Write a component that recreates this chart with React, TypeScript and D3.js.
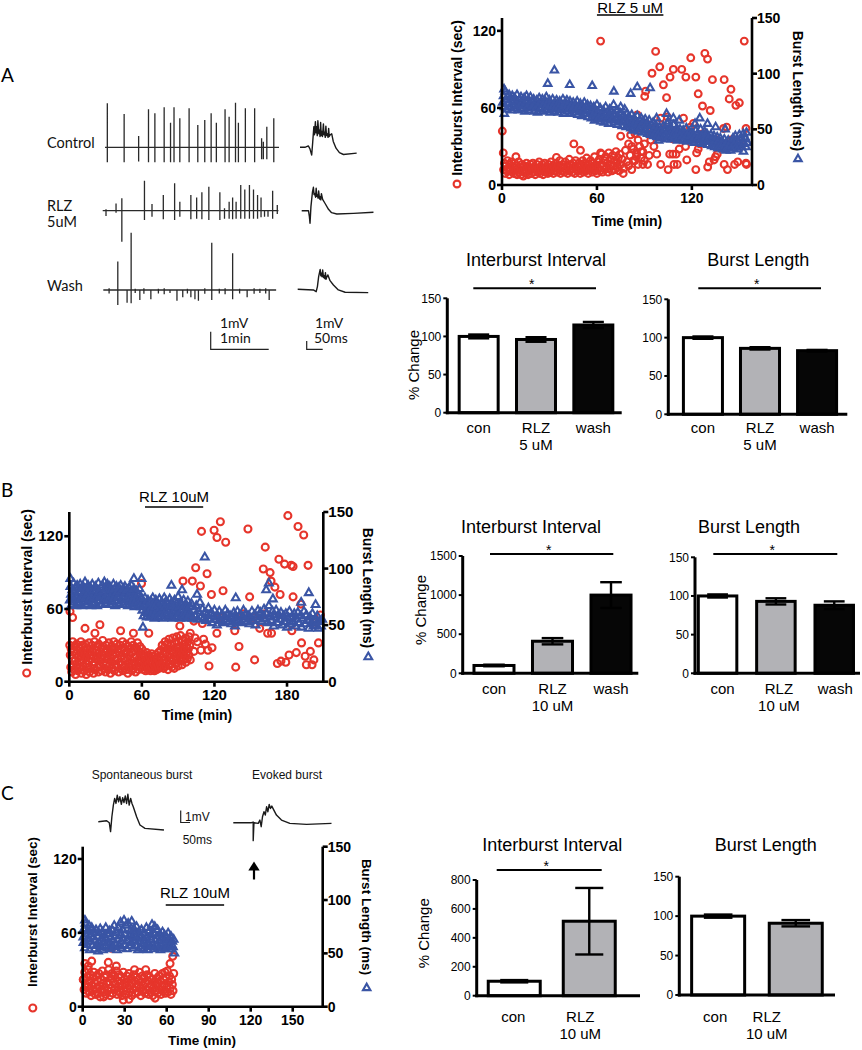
import React from 'react';
import * as d3 from 'd3';

type Pt = [number, number];

// ---------- panel A: raw traces (time in min, amplitude in mV) ----------
const ctrlSpikeT = [0.04, 0.33, 0.58, 0.75, 0.86, 1.02, 1.13, 1.19, 1.29, 1.45, 1.6, 1.72, 1.83, 1.92, 2.07, 2.14, 2.25, 2.3, 2.42, 2.58, 2.7, 2.73, 2.79, 2.91];
const ctrlSpikeUp = [2.59, 1.96, 0.66, 2.24, 2.0, 2.35, 1.45, 2.35, 1.71, 2.29, 1.31, 1.61, 2.0, 1.45, 2.24, 1.8, 2.62, 1.45, 2.29, 2.29, 0.53, 0.33, 1.21, 1.71];
const ctrlSpikeDown = [0.88, 0.88, 0.84, 0.88, 0.88, 0.88, 0.88, 0.88, 0.88, 0.88, 0.88, 0.88, 0.88, 0.88, 0.88, 0.88, 0.88, 0.88, 0.88, 0.88, 0.7, 0.7, 0.7, 0.88];

const rlzSpikeT = [0.057, 0.23, 0.33, 0.72, 0.85, 1.045, 1.24, 1.33, 1.52, 1.62, 1.71, 1.83, 2.02, 2.1, 2.18, 2.24, 2.3, 2.38, 2.45, 2.53, 2.6, 2.67, 2.73, 2.79, 2.85, 2.93, 3.01];
const rlzSpikeUp = [0.08, 0.43, 0.73, 1.76, 0.39, 0.92, 1.61, 0.53, 0.92, 0.78, 1.08, 1.41, 1.08, 0.14, 0.53, 0.78, 0.53, 1.51, 1.25, 1.51, 1.25, 0.92, 0.78, 0, 0, 1.18, 0.33];
const rlzSpikeDown = [0.31, 0.12, 1.82, 0.55, 0.35, 0.51, 0.55, 0.35, 0.51, 0.47, 0.51, 0.55, 0.55, 0.47, 0.47, 0.51, 0.47, 0.47, 0.47, 0.47, 0.47, 0.47, 0.39, 0.35, 0.35, 0.47, 0.2];

const washSpikeT = [0.1, 0.25, 0.41, 0.48, 0.55, 0.63, 0.7, 0.82, 0.95, 1.05, 1.15, 1.27, 1.37, 1.45, 1.51, 1.58, 1.64, 1.75, 1.87, 2.0, 2.1, 2.23, 2.35, 2.48, 2.6, 2.7, 2.8, 2.86];
const washSpikeUp = [0.1, 1.67, 0, 3.37, 0.08, 0, 0.1, 0, 0.08, 0.1, 0, 0, 0, 0.08, 0, 0, 0, 0.1, 2.78, 0.08, 0.1, 2.16, 0.08, 0, 0.1, 0.08, 0.1, 0];
const washSpikeDown = [0.2, 0.88, 0.75, 0.78, 0.18, 0.59, 0.22, 0.55, 0.2, 0.25, 0.18, 0.63, 0.43, 0.2, 0.43, 0.55, 0.63, 0.22, 0.59, 0.2, 0.25, 0.55, 0.2, 0.43, 0.22, 0.18, 0.2, 0.59];

// single bursts (ms, mV)
const ctrlBurst: Pt[] = [[0, 0], [16, 0], [27, 0.15], [32, -0.15], [38, -0.85], [41, 0.45], [45, 2.3], [47, 1.4], [50, 2.85], [52, 1.6], [54, 2.3], [56, 1.3], [58, 2.95], [61, 1.5], [63, 1.9], [65, 1.2], [67, 2.75], [69, 1.3], [71, 1.75], [73, 1.2], [76, 2.6], [78, 1.4], [80, 1.65], [82, 1.1], [84, 2.35], [86, 1.3], [89, 1.5], [91, 1.1], [93, 2.1], [95, 1.2], [97, 1.35], [103, 1.5], [108, 0.65], [117, -0.1], [128, -0.6], [141, -0.8], [184, -0.65]];
const rlzBurst: Pt[] = [[0, 0], [22, 0], [25, -0.67], [27, -1.4], [30, 0.45], [35, 2.1], [38, 2.6], [40, 1.8], [42, 1.9], [45, 1.5], [47, 2.5], [49, 1.6], [51, 1.75], [53, 1.4], [55, 2.2], [58, 1.3], [60, 1.55], [62, 1.2], [64, 1.9], [68, 1.25], [76, 0.8], [87, 0.15], [97, -0.22], [114, -0.37], [168, -0.3], [233, -0.18]];
const washBurst: Pt[] = [[0, 0], [51, -0.07], [60, -0.26], [64, 0.3], [68, 1.4], [73, 2.2], [75, 1.5], [77, 1.8], [79, 1.4], [81, 2.15], [84, 1.3], [86, 1.5], [88, 1.2], [90, 1.85], [92, 1.1], [94, 1.33], [98, 1.6], [105, 0.96], [116, 0.48], [132, -0.07], [154, -0.33], [229, -0.37]];
const spontBurst: Pt[] = [[0, 0], [45, 0.12], [59, -0.12], [66, -1.2], [73, 0.6], [81, 2.0], [88, 2.8], [95, 2.2], [102, 3.2], [109, 2.4], [116, 3.0], [124, 2.1], [131, 2.9], [138, 2.3], [145, 3.1], [152, 2.2], [159, 3.3], [166, 2.0], [174, 2.8], [181, 2.2], [188, 1.8], [206, 0.6], [224, -0.4], [251, -0.8], [353, -1.0]];
const evokedBurst: Pt[] = [[0, 0], [98, 0], [107, 0.08], [107, -2.16], [111, 0], [134, -0.08], [143, 0.32], [150, -0.48], [157, 0.72], [165, 1.32], [172, 0.92], [179, 1.92], [186, 1.32], [193, 2.2], [200, 1.72], [207, 2.0], [218, 1.52], [232, 0.92], [259, 0.32], [304, -0.08], [394, -0.2], [528, -0.08]];

// ---------- scatter data: [time (min), value] ----------
const aInterval: Pt[] = [
  [1, 12], [1.5, 17], [2, 9], [2.5, 15], [3, 11], [3.5, 19], [4, 13], [4.5, 8], [5, 16], [5.5, 12], [6, 18], [6.5, 10], [7, 14], [7.5, 9], [8, 17], [8.5, 12], [9, 15], [9.5, 8], [10, 13], [10.5, 18],
  [11, 10], [11.5, 14], [12, 8], [12.5, 16], [13, 11], [13.5, 7], [14, 15], [14.5, 12], [15, 9], [15.5, 17], [16, 13], [16.5, 8], [17, 14], [17.5, 11], [18, 16], [18.5, 9], [19, 13], [19.5, 17], [20, 10], [20.5, 14],
  [21, 8], [21.5, 12], [22, 16], [22.5, 10], [23, 13], [23.5, 18], [24, 9], [24.5, 14], [25, 11], [25.5, 16], [26, 8], [26.5, 13], [27, 17], [27.5, 10], [28, 14], [28.5, 12], [29, 9], [29.5, 16], [30, 13], [30.5, 10],
  [31, 18], [31.5, 12], [32, 15], [32.5, 9], [33, 14], [33.5, 11], [34, 17], [34.5, 13], [35, 10], [35.5, 15], [36, 12], [36.5, 19], [37, 9], [37.5, 14], [38, 11], [38.5, 16], [39, 13], [39.5, 10], [40, 18], [40.5, 12],
  [41, 15], [41.5, 9], [42, 14], [42.5, 20], [43, 11], [43.5, 16], [44, 13], [44.5, 10], [45, 17], [45.5, 14], [46, 9], [46.5, 19], [47, 12], [47.5, 15], [48, 11], [48.5, 17], [49, 14], [49.5, 9], [50, 16], [50.5, 12],
  [51, 19], [51.5, 10], [52, 14], [52.5, 17], [53, 11], [53.5, 21], [54, 13], [54.5, 9], [55, 16], [55.5, 12], [56, 19], [56.5, 14], [57, 10], [57.5, 17], [58, 13], [58.5, 22], [59, 11], [59.5, 15], [60, 9], [60.5, 18],
  [61, 13], [61.5, 20], [62, 11], [62.5, 16], [63, 24], [63.5, 10], [64, 15], [64.5, 19], [65, 12], [65.5, 22], [66, 14], [66.5, 17], [67, 10], [67.5, 25], [68, 13], [68.5, 20], [69, 16], [69.5, 11], [70, 23], [70.5, 15],
  [71, 19], [71.5, 12], [72, 26], [72.5, 17], [73, 14], [73.5, 21], [74, 11], [74.5, 24], [75, 16], [76, 20], [77, 13], [78, 27], [79, 18], [80, 15], [81, 23], [82, 12], [83, 28], [84, 19], [85, 25], [86, 16], [87, 30], [88, 21], [89, 26], [90, 19],
  [0.2, 42], [0.8, 25], [8.8, 22], [45.4, 32], [49.6, 27], [34.4, 21.5], [62.3, 112], [62.3, 25], [75, 38], [76.6, 9], [81.3, 39], [85.5, 54.5], [90.2, 69], [90.8, 73], [94.8, 87], [97.1, 104], [99.7, 92], [102, 78], [104, 68], [106.2, 84],
  [108.3, 90], [113.6, 90], [116.2, 84], [119.3, 99], [122.5, 84], [124, 71], [126.7, 61.5], [128.2, 102.5], [129.9, 98], [131.6, 58], [133, 82], [140.4, 82], [143.6, 67], [144.7, 74.5], [147.8, 62], [150, 64], [153.1, 112], [154.2, 44], [154.2, 17], [100.3, 52],
  [104.5, 53], [114.7, 52], [108, 36], [110, 38], [97.8, 24], [100.3, 16], [105, 12], [108.7, 16], [110.8, 16], [106, 24], [108, 24], [110, 24], [116.8, 19.5], [122.5, 12], [116, 30], [123, 25], [124, 28], [125, 32], [130, 14], [131, 18],
  [134, 19.5], [136, 24], [135, 22], [137, 30], [136, 35], [140.4, 16], [142.5, 12], [147, 16], [149, 18], [140, 44], [142, 45], [144.7, 35], [150.5, 35], [151, 30], [154.5, 16], [80, 32], [82, 30], [83, 19], [85, 22], [88, 26],
  [89, 16], [90, 32], [92, 16], [93, 23], [94, 35], [94, 41.5], [96, 44], [96, 30], [86, 35], [84, 40], [87, 45], [91, 48], [119, 45], [127, 40], [121, 48], [103, 44], [112, 28], [118, 40],
];

const aLength: Pt[] = [
  [0.5, 74], [1, 80], [1.5, 70], [2, 84], [2.5, 77], [3, 68], [3.5, 79], [4, 73], [4.5, 81], [5, 70], [5.5, 76], [6, 67], [6.5, 80], [7, 74], [7.5, 71], [8, 78], [8.5, 69], [9, 75], [9.5, 81], [10, 72],
  [10.5, 67], [11, 77], [11.5, 73], [12, 79], [12.5, 68], [13, 75], [13.5, 71], [14, 78], [14.5, 66], [15, 74], [15.5, 80], [16, 70], [16.5, 76], [17, 67], [17.5, 73], [18, 79], [18.5, 69], [19, 75], [19.5, 71], [20, 77],
  [20.5, 66], [21, 73], [21.5, 69], [22, 76], [22.5, 65], [23, 72], [23.5, 78], [24, 68], [24.5, 74], [25, 70], [25.5, 77], [26, 66], [26.5, 72], [27, 68], [27.5, 75], [28, 79], [28.5, 67], [29, 73], [29.5, 70], [30, 76],
  [30.5, 65], [31, 72], [31.5, 68], [32, 77], [32.5, 71], [33, 66], [33.5, 74], [34, 69], [34.5, 76], [35, 72], [35.5, 65], [36, 70], [36.5, 75], [37, 67], [37.5, 73], [38, 69], [38.5, 77], [39, 64], [39.5, 71], [40, 74],
  [40.5, 68], [41, 76], [41.5, 66], [42, 72], [42.5, 69], [43, 75], [43.5, 64], [44, 71], [44.5, 67], [45, 74], [45.5, 70], [46, 65], [46.5, 72], [47, 68], [47.5, 75], [48, 63], [48.5, 70], [49, 66], [49.5, 73], [50, 69],
  [50.5, 62], [51, 71], [51.5, 67], [52, 74], [52.5, 64], [53, 70], [53.5, 66], [54, 72], [54.5, 61], [55, 68], [55.5, 64], [56, 71], [56.5, 60], [57, 67], [57.5, 63], [58, 70], [58.5, 58], [59, 66], [59.5, 62], [60, 72],
  [60.5, 59], [61, 65], [61.5, 61], [62, 69], [62.5, 57], [63, 64], [63.5, 60], [64, 67], [64.5, 56], [65, 63], [65.5, 70], [66, 59], [66.5, 65], [67, 61], [67.5, 55], [68, 68], [68.5, 62], [69, 58], [69.5, 66], [70, 60],
  [70.5, 72], [71, 56], [71.5, 63], [72, 59], [72.5, 67], [73, 54], [73.5, 61], [74, 57], [74.5, 65], [75, 70], [75.5, 58], [76, 53], [76.5, 62], [77, 56], [77.5, 68], [78, 60], [78.5, 52], [79, 64], [79.5, 57], [80, 61],
  [80.5, 54], [81, 59], [81.5, 51], [82, 63], [82.5, 56], [83, 49], [83.5, 60], [84, 53], [84.5, 57], [85, 50], [85.5, 62], [86, 55], [86.5, 48], [87, 58], [87.5, 52], [88, 60], [88.5, 54], [89, 47], [89.5, 57], [90, 51],
  [90.5, 59], [91, 49], [91.5, 55], [92, 46], [92.5, 53], [93, 58], [93.5, 50], [94, 45], [94.5, 54], [95, 48], [95.5, 56], [96, 44], [96.5, 51], [97, 47], [97.5, 53], [98, 43], [98.5, 50], [99, 46], [99.5, 52], [100, 44],
  [100.5, 49], [101, 42], [101.5, 47], [102, 53], [102.5, 44], [103, 50], [103.5, 41], [104, 47], [104.5, 55], [105, 43], [105.5, 49], [106, 45], [106.5, 52], [107, 41], [107.5, 47], [108, 44], [108.5, 54], [109, 42], [109.5, 48], [110, 45],
  [110.5, 51], [111, 40], [111.5, 46], [112, 43], [112.5, 50], [113, 41], [113.5, 47], [114, 44], [114.5, 49], [115, 40], [115.5, 46], [116, 43], [116.5, 51], [117, 39], [117.5, 45], [118, 42], [118.5, 48], [119, 40], [119.5, 44], [120, 47],
  [120.5, 41], [121, 45], [121.5, 38], [122, 43], [122.5, 49], [123, 40], [123.5, 46], [124, 42], [124.5, 38], [125, 44], [125.5, 50], [126, 41], [126.5, 37], [127, 45], [127.5, 42], [128, 48], [128.5, 39], [129, 43], [129.5, 46], [130, 40],
  [130.5, 36], [131, 42], [131.5, 39], [132, 45], [132.5, 35], [133, 41], [133.5, 38], [134, 44], [134.5, 34], [135, 40], [135.5, 37], [136, 43], [136.5, 33], [137, 39], [137.5, 36], [138, 42], [138.5, 34], [139, 38], [139.5, 32], [140, 37],
  [140.5, 41], [141, 35], [141.5, 31], [142, 38], [142.5, 34], [143, 40], [143.5, 33], [144, 36], [144.5, 31], [145, 39], [145.5, 35], [146, 42], [146.5, 33], [147, 37], [147.5, 44], [148, 35], [148.5, 40], [149, 32], [149.5, 38], [150, 45],
  [150.5, 36], [151, 42], [151.5, 34], [152, 39], [152.5, 46], [153, 37], [153.5, 43], [154, 41], [154.5, 47], [155, 38],
  [1.3, 86], [1.5, 64], [28.9, 91], [33.1, 103], [42.8, 90], [57, 89], [70.7, 84], [81.3, 82], [85.5, 88], [93.6, 87], [97.7, 60], [99, 40], [104, 64], [108.3, 60], [125, 60], [129.9, 55], [130, 36], [152.6, 30], [154.2, 34],
  [105, 57], [112, 58], [122, 55], [135, 52], [141, 50],
];

const bInterval: Pt[] = [
  [0.4, 30], [0.8, 22], [1.2, 12], [1.6, 27], [2, 8], [2.4, 19], [2.8, 33], [3.2, 14], [3.6, 25], [4, 10], [4.4, 29], [4.8, 17], [5.2, 6], [5.6, 23], [6, 31], [6.4, 13], [6.8, 26], [7.2, 9], [7.6, 20], [8, 28],
  [8.4, 11], [8.8, 24], [9.2, 16], [9.6, 33], [10, 7], [10.4, 21], [10.8, 30], [11.2, 13], [11.6, 18], [12, 26], [12.4, 9], [12.8, 23], [13.2, 31], [13.6, 15], [14, 6], [14.4, 20], [14.8, 28], [15.2, 12], [15.6, 24], [16, 17],
  [16.4, 32], [16.8, 8], [17.2, 22], [17.6, 27], [18, 11], [18.4, 19], [18.8, 30], [19.2, 14], [19.6, 25], [20, 7], [20.4, 21], [20.8, 33], [21.2, 16], [21.6, 10], [22, 26], [22.4, 19], [22.8, 29], [23.2, 12], [23.6, 23], [24, 8],
  [24.4, 31], [24.8, 17], [25.2, 25], [25.6, 13], [26, 20], [26.4, 28], [26.8, 9], [27.2, 22], [27.6, 34], [28, 15], [28.4, 11], [28.8, 27], [29.2, 19], [29.6, 24], [30, 8], [30.4, 30], [30.8, 14], [31.2, 21], [31.6, 26], [32, 10],
  [32.4, 18], [32.8, 32], [33.2, 13], [33.6, 24], [34, 7], [34.4, 20], [34.8, 29], [35.2, 16], [35.6, 11], [36, 26], [36.4, 22], [36.8, 33], [37.2, 9], [37.6, 18], [38, 28], [38.4, 14], [38.8, 23], [39.2, 31], [39.6, 12], [40, 19],
  [40.4, 27], [40.8, 8], [41.2, 24], [41.6, 16], [42, 30], [42.4, 11], [42.8, 21], [43.2, 26], [43.6, 14], [44, 33], [44.4, 9], [44.8, 19], [45.2, 28], [45.6, 13], [46, 23], [46.4, 17], [46.8, 31], [47.2, 10], [47.6, 25], [48, 20],
  [48.4, 7], [48.8, 29], [49.2, 15], [49.6, 22], [50, 12], [50.4, 27], [50.8, 18], [51.2, 33], [51.6, 9], [52, 24], [52.4, 14], [52.8, 30], [53.2, 11], [53.6, 20], [54, 26], [54.4, 16], [54.8, 8], [55.2, 28], [55.6, 21], [56, 13],
  [56.4, 32], [56.8, 18], [57.2, 10], [57.6, 25], [58, 15], [58.4, 29], [58.8, 12], [59.2, 22], [59.6, 17], [60, 27],
  [60.4, 14], [60.8, 20], [61.2, 10], [61.6, 23], [62, 16], [62.4, 12], [62.8, 21], [63.2, 9], [63.6, 18], [64, 24], [64.4, 13], [64.8, 19], [65.2, 10], [65.6, 22], [66, 15], [66.4, 11], [66.8, 20], [67.2, 9], [67.6, 17], [68, 23],
  [68.4, 12], [68.8, 16], [69.2, 10], [69.6, 21], [70, 14], [70.4, 9], [70.8, 18], [71.2, 12], [71.6, 22], [72, 15], [72.4, 10], [72.8, 19], [73.2, 13], [73.6, 24], [74, 11], [74.4, 17], [74.8, 21], [75.2, 14],
  [75.6, 26], [76, 12], [76.4, 20], [76.8, 30], [77.2, 15], [77.6, 23], [78, 11], [78.4, 28], [78.8, 18], [79.2, 33], [79.6, 13], [80, 24], [80.4, 16], [80.8, 31], [81.2, 21], [81.6, 10], [82, 27], [82.4, 35], [82.8, 17], [83.2, 23],
  [83.6, 14], [84, 30], [84.4, 20], [84.8, 12], [85.2, 26], [85.6, 36], [86, 18], [86.4, 24], [86.8, 11], [87.2, 32], [87.6, 21], [88, 15], [88.4, 28], [88.8, 37], [89.2, 19], [89.6, 25], [90, 13], [90.4, 33], [90.8, 22], [91.2, 17],
  [91.6, 29], [92, 38], [92.4, 20], [92.8, 26], [93.2, 14], [93.6, 34], [94, 23], [94.4, 18], [94.8, 31], [95.2, 27], [95.6, 21], [96, 36], [96.4, 16], [96.8, 29], [97.2, 24], [97.6, 19], [98, 33], [98.4, 27], [98.8, 22], [99.2, 37],
  [99.6, 30], [100, 18],
  [0.6, 58], [2.7, 53], [13, 44], [25.3, 47], [21.2, 40], [42.4, 42], [53, 40], [59.7, 81], [65.7, 40], [91.4, 46], [94, 83], [101.7, 83], [104.5, 94], [108.4, 79], [113.9, 89], [109.3, 124], [119.7, 125], [122.1, 119], [124.9, 132], [129.3, 115],
  [117.5, 72], [127.1, 75], [122, 40], [136.8, 42], [140.3, 29], [137.6, 12], [147.7, 126], [149.1, 70], [153.2, 18], [157.4, 44], [162, 111], [160.4, 93], [166, 90], [166.8, 83], [170, 78], [174.3, 72], [164, 40], [167.2, 40], [173.3, 101], [178, 97],
  [183.5, 96], [185, 95], [180.7, 137], [189.1, 128], [193.8, 121], [197.4, 96], [185, 70], [191.5, 64], [184, 42], [172, 15], [175, 17], [179, 16], [181.7, 22], [187.7, 24], [192, 32], [195, 21], [196, 14], [200.7, 14], [202.2, 18], [199.3, 25],
  [206, 32], [204, 49], [207.6, 55], [108.8, 26], [106, 33], [114.6, 26], [115.5, 13], [111, 35], [112.5, 31], [103, 25], [124.6, 53], [144, 56], [152, 53], [162, 56], [100, 40], [104, 36], [103, 50], [110, 48], [118, 28], [98, 55],
];

const bLength: Pt[] = [
  [0.5, 72], [1, 84], [1.5, 77], [2, 68], [2.5, 81], [3, 74], [3.5, 87], [4, 70], [4.5, 79], [5, 83], [5.5, 67], [6, 76], [6.5, 85], [7, 72], [7.5, 80], [8, 69], [8.5, 78], [9, 86], [9.5, 73], [10, 82],
  [10.5, 67], [11, 76], [11.5, 84], [12, 71], [12.5, 79], [13, 88], [13.5, 74], [14, 68], [14.5, 81], [15, 77], [15.5, 85], [16, 70], [16.5, 79], [17, 73], [17.5, 83], [18, 67], [18.5, 76], [19, 86], [19.5, 72], [20, 80],
  [20.5, 69], [21, 78], [21.5, 84], [22, 74], [22.5, 81], [23, 67], [23.5, 77], [24, 87], [24.5, 71], [25, 79], [25.5, 75], [26, 83], [26.5, 68], [27, 76], [27.5, 85], [28, 72], [28.5, 80], [29, 88], [29.5, 74], [30, 69],
  [30.5, 82], [31, 77], [31.5, 86], [32, 71], [32.5, 79], [33, 73], [33.5, 84], [34, 68], [34.5, 76], [35, 81], [35.5, 70], [36, 78], [36.5, 86], [37, 74], [37.5, 82], [38, 67], [38.5, 77], [39, 84], [39.5, 71], [40, 79],
  [40.5, 75], [41, 83], [41.5, 69], [42, 78], [42.5, 85], [43, 72], [43.5, 80], [44, 74], [44.5, 68], [45, 82], [45.5, 77], [46, 84], [46.5, 70], [47, 79], [47.5, 73], [48, 81], [48.5, 67], [49, 76], [49.5, 83], [50, 71],
  [50.5, 78], [51, 74], [51.5, 85], [52, 69], [52.5, 79], [53, 72], [53.5, 82], [54, 66], [54.5, 76], [55, 70], [55.5, 80], [56, 73], [56.5, 67], [57, 77], [57.5, 71], [58, 82], [58.5, 68], [59, 75], [59.5, 66], [60, 73],
  [60.5, 63], [61, 70], [61.5, 58], [62, 67], [62.5, 74], [63, 61], [63.5, 68], [64, 57], [64.5, 65], [65, 72], [65.5, 60], [66, 69], [66.5, 63], [67, 57], [67.5, 71], [68, 65], [68.5, 59], [69, 74], [69.5, 62], [70, 68],
  [70.5, 56], [71, 66], [71.5, 72], [72, 60], [72.5, 69], [73, 63], [73.5, 57], [74, 67], [74.5, 73], [75, 61], [75.5, 65], [76, 58], [76.5, 70], [77, 63], [77.5, 56], [78, 68], [78.5, 74], [79, 60], [79.5, 66], [80, 71],
  [80.5, 58], [81, 64], [81.5, 69], [82, 57], [82.5, 62], [83, 73], [83.5, 66], [84, 59], [84.5, 70], [85, 63], [85.5, 56], [86, 67], [86.5, 61], [87, 72], [87.5, 58], [88, 65], [88.5, 69], [89, 57], [89.5, 63], [90, 75],
  [90.5, 60], [91, 66], [91.5, 56], [92, 70], [92.5, 62], [93, 67], [93.5, 58], [94, 64], [94.5, 72], [95, 57], [95.5, 61], [96, 68], [96.5, 59], [97, 65], [97.5, 56], [98, 71], [98.5, 62], [99, 57], [99.5, 66], [100, 60],
  [101, 69], [102, 56], [103, 63], [104, 58], [105, 67], [106, 55], [107, 62], [108, 70], [109, 57], [110, 64],
  [111, 56], [112, 61], [113, 54], [114, 59], [115, 65], [116, 55], [117, 60], [118, 52], [119, 58], [120, 63], [121, 55], [122, 50], [123, 57], [124, 62], [125, 54], [126, 59], [127, 52], [128, 57], [129, 63], [130, 55],
  [131, 60], [132, 53], [133, 58], [134, 51], [135, 56], [136, 61], [137, 49], [138, 57], [139, 62], [140, 54], [141, 59], [142, 52], [143, 57], [144, 63], [145, 55], [146, 60], [147, 53], [148, 58], [149, 51], [150, 56],
  [151, 62], [152, 54], [153, 59], [154, 50], [155, 57], [156, 63], [157, 55], [158, 61], [159, 53], [160, 58], [161, 64], [162, 56], [163, 60], [164, 52], [165, 67], [166, 58], [167, 54], [168, 62], [169, 49], [170, 57],
  [171, 63], [172, 52], [173, 59], [174, 55], [175, 61], [176, 50], [177, 58], [178, 53], [179, 60], [180, 48], [181, 56], [182, 62], [183, 51], [184, 57], [185, 53], [186, 60], [187, 49], [188, 55], [189, 61], [190, 52],
  [191, 58], [192, 48], [193, 56], [194, 62], [195, 51], [196, 59], [197, 54], [198, 47], [199, 57], [200, 52], [201, 60], [202, 49], [203, 55], [204, 50], [205, 58], [206, 47], [207, 53], [208, 49], [209, 55],
  [0.9, 91], [53.4, 91], [59.7, 91], [60.9, 48], [84.4, 85], [93.2, 81], [112, 110], [105.6, 77], [137.6, 74], [137.6, 53], [162.8, 81], [165, 87], [168.3, 73], [191.7, 70], [198, 78.5], [203.6, 68], [205.5, 53],
];

const cInterval: Pt[] = [
  [0.5, 22], [1, 14], [1.5, 28], [2, 18], [2.5, 11], [3, 24], [3.5, 16], [4, 30], [4.5, 12], [5, 20], [5.5, 26], [6, 9], [6.5, 17], [7, 23], [7.5, 13], [8, 28], [8.5, 19], [9, 10], [9.5, 25], [10, 15],
  [10.5, 21], [11, 11], [11.5, 27], [12, 17], [12.5, 8], [13, 22], [13.5, 14], [14, 29], [14.5, 19], [15, 12], [15.5, 24], [16, 16], [16.5, 10], [17, 26], [17.5, 20], [18, 13], [18.5, 30], [19, 18], [19.5, 9], [20, 23],
  [20.5, 15], [21, 27], [21.5, 11], [22, 20], [22.5, 25], [23, 14], [23.5, 18], [24, 29], [24.5, 10], [25, 21], [25.5, 16], [26, 26], [26.5, 12], [27, 19], [27.5, 24], [28, 9], [28.5, 17], [29, 28], [29.5, 13], [30, 22],
  [30.5, 18], [31, 10], [31.5, 25], [32, 15], [32.5, 20], [33, 27], [33.5, 12], [34, 17], [34.5, 23], [35, 9], [35.5, 19], [36, 14], [36.5, 26], [37, 21], [37.5, 11], [38, 16], [38.5, 24], [39, 18], [39.5, 12], [40, 22],
  [40.5, 28], [41, 15], [41.5, 9], [42, 20], [42.5, 25], [43, 13], [43.5, 17], [44, 23], [44.5, 11], [45, 19], [45.5, 14], [46, 26], [46.5, 21], [47, 10], [47.5, 16], [48, 24], [48.5, 12], [49, 18], [49.5, 22], [50, 9],
  [50.5, 15], [51, 20], [51.5, 27], [52, 13], [52.5, 17], [53, 23], [53.5, 11], [54, 19], [54.5, 25], [55, 14], [55.5, 21], [56, 10], [56.5, 17], [57, 27], [57.5, 13], [58, 22], [58.5, 18], [59, 11], [59.5, 24], [60, 16],
  [60.5, 29], [61, 12], [61.5, 20], [62, 25], [62.5, 15], [63, 10], [63.5, 22], [64, 18], [64.5, 13], [65, 27],
  [0.4, 22], [1.6, 35], [6.4, 37], [11.2, 11], [18.3, 36], [20.7, 47.5], [29, 5.5], [37, 30], [51.7, 7], [58.8, 28], [62.4, 35], [64.3, 41], [4, 33], [24, 33], [45, 30], [33, 6], [15, 8],
];

const cLength: Pt[] = [
  [0.5, 60], [1, 73], [1.5, 55], [2, 78], [2.5, 66], [3, 58], [3.5, 71], [4, 63], [4.5, 76], [5, 53], [5.5, 68], [6, 61], [6.5, 74], [7, 57], [7.5, 65], [8, 70], [8.5, 54], [9, 62], [9.5, 72], [10, 58],
  [10.5, 66], [11, 52], [11.5, 69], [12, 60], [12.5, 73], [13, 56], [13.5, 64], [14, 70], [14.5, 53], [15, 61], [15.5, 67], [16, 57], [16.5, 74], [17, 63], [17.5, 55], [18, 68], [18.5, 60], [19, 71], [19.5, 54], [20, 65],
  [20.5, 58], [21, 72], [21.5, 62], [22, 56], [22.5, 76], [23, 66], [23.5, 59], [24, 69], [24.5, 53], [25, 63], [25.5, 74], [26, 57], [26.5, 67], [27, 79], [27.5, 61], [28, 55], [28.5, 72], [29, 64], [29.5, 81], [30, 58],
  [30.5, 68], [31, 76], [31.5, 54], [32, 62], [32.5, 78], [33, 66], [33.5, 57], [34, 71], [34.5, 60], [35, 80], [35.5, 65], [36, 55], [36.5, 73], [37, 62], [37.5, 68], [38, 57], [38.5, 75], [39, 64], [39.5, 53], [40, 70],
  [40.5, 61], [41, 66], [41.5, 55], [42, 72], [42.5, 59], [43, 64], [43.5, 54], [44, 69], [44.5, 62], [45, 57], [45.5, 74], [46, 65], [46.5, 53], [47, 60], [47.5, 71], [48, 56], [48.5, 67], [49, 63], [49.5, 77], [50, 58],
  [50.5, 69], [51, 54], [51.5, 75], [52, 62], [52.5, 57], [53, 66], [53.5, 72], [54, 55], [54.5, 61], [55, 68], [55.5, 53], [56, 64], [56.5, 58], [57, 70], [57.5, 55], [58, 62], [58.5, 67], [59, 54], [59.5, 60], [60, 65],
  [60.5, 56], [61, 69], [61.5, 59], [62, 63], [62.5, 54], [63, 66], [63.5, 58], [64, 61], [64.5, 56], [65, 63],
  [0.4, 65], [1.6, 81], [65.5, 50],
];

// ---------- bar data (% change, mean and SEM) ----------
const catsA = [['con'], ['RLZ', '5 uM'], ['wash']];
const catsB = [['con'], ['RLZ', '10 uM'], ['wash']];
const catsC = [['con'], ['RLZ', '10 uM']];
const ibiA = [100, 96, 115];
const ibiAErr = [2.5, 3, 4];
const blA = [100, 86, 83];
const blAErr = [1.5, 1.5, 1];
const ibiB = [100, 410, 1000];
const ibiBErr = [10, 40, 165];
const blB = [100, 93, 88];
const blBErr = [2, 4, 5];
const ibiC = [100, 515];
const ibiCErr = [8, 230];
const blC = [100, 91];
const blCErr = [2, 4];

const RED = '#e6352b';
const BLUE = '#3a55a5';
const ARIAL = 'Arial, "Liberation Sans", Helvetica, sans-serif';
const GILL = 'Lato, "Open Sans", sans-serif';
const BAR_FILLS = ['#ffffff', '#b2b2b6', '#060606'];

interface ScatterCfg {
  x0: number; x1: number; yb: number; yt: number;
  tMax: number; leftMax: number;
  xTicks: number[]; leftTicks: number[];
  tickFont: number; labelFont: number; r: number; tri: number;
  leftLabel: { x: number; y: number; m: number };
  rightLabel: { x: number; y: number; m: number };
  time: { x: number; y: number };
  drug: { t0: number; t1: number; ty: number; ly: number; text: string };
}

const Scatter = ({ cfg, intPts, lenPts }: { cfg: ScatterCfg; intPts: Pt[]; lenPts: Pt[] }) => {
  const x = d3.scaleLinear().domain([0, cfg.tMax]).range([cfg.x0, cfg.x1]);
  const yL = d3.scaleLinear().domain([0, cfg.leftMax]).range([cfg.yb, cfg.yt]);
  const yR = d3.scaleLinear().domain([0, 150]).range([cfg.yb, cfg.yt]);
  const tri = d3.symbol().type(d3.symbolTriangle).size(cfg.tri)() as string;
  const rightTicks = [0, 50, 100, 150];
  const sw = 2.1;
  return (
    <g fontFamily={ARIAL} fontWeight="bold">
      {intPts.map((p, i) => (
        <circle key={'c' + i} cx={x(p[0])} cy={yL(p[1])} r={cfg.r} fill="none" stroke={RED} strokeWidth={sw} />
      ))}
      {lenPts.map((p, i) => (
        <path key={'t' + i} d={tri} transform={`translate(${x(p[0])},${yR(p[1])})`} fill="none" stroke={BLUE} strokeWidth={sw} />
      ))}
      {/* axes */}
      <g stroke="#000" strokeWidth={2.6} fill="none">
        <line x1={cfg.x0} x2={cfg.x0} y1={cfg.yb + 1} y2={cfg.yt} />
        <line x1={cfg.x1} x2={cfg.x1} y1={cfg.yb + 1} y2={cfg.yt} />
        <line x1={cfg.x0 - 1} x2={cfg.x1 + 1} y1={cfg.yb} y2={cfg.yb} />
        {cfg.xTicks.map(t => <line key={'xt' + t} x1={x(t)} x2={x(t)} y1={cfg.yb} y2={cfg.yb + 5} />)}
        {cfg.leftTicks.map(t => <line key={'lt' + t} x1={cfg.x0 - 5} x2={cfg.x0} y1={yL(t)} y2={yL(t)} />)}
        {rightTicks.map(t => <line key={'rt' + t} x1={cfg.x1} x2={cfg.x1 + 5} y1={yR(t)} y2={yR(t)} />)}
      </g>
      <g fontSize={cfg.tickFont}>
        {cfg.xTicks.map(t => <text key={'xl' + t} x={x(t)} y={cfg.yb + 18} textAnchor="middle">{t}</text>)}
        {cfg.leftTicks.map(t => <text key={'ll' + t} x={cfg.x0 - 6} y={yL(t)} dy="0.35em" textAnchor="end">{t}</text>)}
        {rightTicks.map(t => <text key={'rl' + t} x={cfg.x1 + 5} y={yR(t)} dy="0.35em">{t}</text>)}
      </g>
      <text x={cfg.time.x} y={cfg.time.y} textAnchor="middle" fontSize={cfg.labelFont}>Time (min)</text>
      <text transform={`translate(${cfg.leftLabel.x},${cfg.leftLabel.y}) rotate(-90)`} textAnchor="middle" dominantBaseline="central" fontSize={cfg.labelFont}>Interburst Interval (sec)</text>
      <circle cx={cfg.leftLabel.x} cy={cfg.leftLabel.m} r={cfg.r} fill="none" stroke={RED} strokeWidth={sw} />
      <text transform={`translate(${cfg.rightLabel.x},${cfg.rightLabel.y}) rotate(90)`} textAnchor="middle" dominantBaseline="central" fontSize={cfg.labelFont}>Burst Length (ms)</text>
      <path d={tri} transform={`translate(${cfg.rightLabel.x},${cfg.rightLabel.m})`} fill="none" stroke={BLUE} strokeWidth={sw} />
      {/* drug application */}
      <text x={(x(cfg.drug.t0) + x(cfg.drug.t1)) / 2} y={cfg.drug.ty} textAnchor="middle" fontWeight="normal" fontSize={15}>{cfg.drug.text}</text>
      <line x1={x(cfg.drug.t0)} x2={x(cfg.drug.t1)} y1={cfg.drug.ly} y2={cfg.drug.ly} stroke="#000" strokeWidth={1.6} />
    </g>
  );
};

interface BarCfg {
  axisX: number; xEnd: number; yb: number; yt: number; yMax: number; ticks: number[];
  r0: number; r1: number; pi: number; po: number;
  title: string; titleX: number; titleY: number;
  sig?: { x0: number; x1: number; y: number };
  yLabel?: { x: number; y: number };
  labelY: number; labelShift: number[];
}

const Bars = ({ cfg, values, errs, cats }: { cfg: BarCfg; values: number[]; errs: number[]; cats: string[][] }) => {
  const x = d3.scaleBand<number>().domain(values.map((_, i) => i)).range([cfg.r0, cfg.r1]).paddingInner(cfg.pi).paddingOuter(cfg.po);
  const y = d3.scaleLinear().domain([0, cfg.yMax]).range([cfg.yb, cfg.yt]);
  const bw = x.bandwidth();
  return (
    <g fontFamily={ARIAL}>
      <text x={cfg.titleX} y={cfg.titleY} textAnchor="middle" fontSize={18}>{cfg.title}</text>
      {cfg.sig && (
        <g>
          <line x1={cfg.sig.x0} x2={cfg.sig.x1} y1={cfg.sig.y} y2={cfg.sig.y} stroke="#000" strokeWidth={2} />
          <text x={(cfg.sig.x0 + cfg.sig.x1) / 2 - 3} y={cfg.sig.y + 1} textAnchor="middle" fontSize={14}>*</text>
        </g>
      )}
      {values.map((v, i) => {
        const x0 = x(i) as number;
        const cx = x0 + bw / 2;
        return (
          <g key={i}>
            <rect x={x0} y={y(v)} width={bw} height={cfg.yb - y(v)} fill={BAR_FILLS[i]} stroke="#000" strokeWidth={3} />
            <g stroke="#000" strokeWidth={2.4}>
              <line x1={cx} x2={cx} y1={y(v - errs[i])} y2={y(v + errs[i])} />
              <line x1={cx - bw * 0.27} x2={cx + bw * 0.27} y1={y(v + errs[i])} y2={y(v + errs[i])} />
              <line x1={cx - bw * 0.27} x2={cx + bw * 0.27} y1={y(v - errs[i])} y2={y(v - errs[i])} />
            </g>
            {cats[i].map((s, j) => (
              <text key={j} x={cx + cfg.labelShift[i]} y={cfg.labelY + j * 17} textAnchor="middle" fontSize={15}>{s}</text>
            ))}
          </g>
        );
      })}
      <g stroke="#000" fill="none">
        <line x1={cfg.axisX} x2={cfg.axisX} y1={cfg.yb + 1.5} y2={cfg.yt} strokeWidth={3} />
        <line x1={cfg.axisX - 1.5} x2={cfg.xEnd} y1={cfg.yb} y2={cfg.yb} strokeWidth={3} />
        {cfg.ticks.map(t => <line key={t} x1={cfg.axisX - 4} x2={cfg.axisX} y1={y(t)} y2={y(t)} strokeWidth={2} />)}
      </g>
      {cfg.ticks.map(t => (
        <text key={'l' + t} x={cfg.axisX - 6} y={y(t)} dy="0.35em" textAnchor="end" fontSize={12}>{t}</text>
      ))}
      {cfg.yLabel && (
        <text transform={`translate(${cfg.yLabel.x},${cfg.yLabel.y}) rotate(-90)`} textAnchor="middle" dominantBaseline="central" fontSize={15}>% Change</text>
      )}
    </g>
  );
};

// spike train trace: baseline with vertical deflections
const SpikeTrace = ({ x0, y0, t, up, down, end }: { x0: number; y0: number; t: number[]; up: number[]; down: number[]; end: number }) => {
  const x = d3.scaleLinear().domain([0, 1]).range([x0, x0 + 58]);
  const y = d3.scaleLinear().domain([0, 1]).range([y0, y0 - 17]);
  const pts: Pt[] = [[0, 0]];
  t.forEach((tt, i) => {
    pts.push([tt, 0], [tt, up[i]], [tt, -down[i]], [tt, 0]);
  });
  pts.push([end, 0]);
  const line = d3.line<Pt>().x(d => x(d[0])).y(d => y(d[1]));
  return <path d={line(pts) as string} fill="none" stroke="#2a2a2a" strokeWidth={1.3} />;
};

const Burst = ({ x0, y0, pts, pxMs, pxMv }: { x0: number; y0: number; pts: Pt[]; pxMs: number; pxMv: number }) => {
  const x = d3.scaleLinear().domain([0, 100]).range([x0, x0 + 100 * pxMs]);
  const y = d3.scaleLinear().domain([0, 1]).range([y0, y0 - pxMv]);
  const line = d3.line<Pt>().x(d => x(d[0])).y(d => y(d[1]));
  return <path d={line(pts) as string} fill="none" stroke="#1a1a1a" strokeWidth={1.4} strokeLinejoin="round" />;
};

const scatterA: ScatterCfg = {
  x0: 502, x1: 752, yb: 185, yt: 18, tMax: 158, leftMax: 130,
  xTicks: [0, 60, 120], leftTicks: [0, 60, 120], tickFont: 14, labelFont: 14, r: 3.4, tri: 24,
  leftLabel: { x: 457, y: 98, m: 184 }, rightLabel: { x: 798, y: 91, m: 159 },
  time: { x: 627, y: 226 },
  drug: { t0: 60, t1: 102, ty: 12.5, ly: 15, text: 'RLZ 5 uM' },
};
const scatterB: ScatterCfg = {
  x0: 69.3, x1: 323.3, yb: 681.7, yt: 512, tMax: 210, leftMax: 140,
  xTicks: [0, 60, 120, 180], leftTicks: [0, 60, 120], tickFont: 15, labelFont: 14, r: 3.5, tri: 26,
  leftLabel: { x: 26.7, y: 587, m: 673 }, rightLabel: { x: 368.3, y: 588, m: 657 },
  time: { x: 197, y: 720 },
  drug: { t0: 62.6, t1: 110.7, ty: 502, ly: 507, text: 'RLZ 10uM' },
};
const scatterC: ScatterCfg = {
  x0: 82.7, x1: 322.7, yb: 1006.7, yt: 846.7, tMax: 171.4, leftMax: 130,
  xTicks: [0, 30, 60, 90, 120, 150], leftTicks: [0, 60, 120], tickFont: 14, labelFont: 13.5, r: 3.5, tri: 24,
  leftLabel: { x: 32.8, y: 912, m: 1008 }, rightLabel: { x: 366.7, y: 917, m: 988 },
  time: { x: 202, y: 1045 },
  drug: { t0: 59.3, t1: 101, ty: 898, ly: 905, text: 'RLZ 10uM' },
};

const barAIbi: BarCfg = {
  axisX: 447.3, xEnd: 621.7, yb: 412.7, yt: 298.3, yMax: 150, ticks: [0, 50, 100, 150],
  r0: 450, r1: 622, pi: 0.32, po: 0.16, title: 'Interburst Interval', titleX: 536, titleY: 266,
  sig: { x0: 473.3, x1: 596, y: 288.3 }, yLabel: { x: 413, y: 365 }, labelY: 432.5, labelShift: [0, 0, 0],
};
const barABl: BarCfg = {
  axisX: 668.3, xEnd: 847.3, yb: 414.3, yt: 299.3, yMax: 150, ticks: [0, 50, 100, 150],
  r0: 672, r1: 848, pi: 0.316, po: 0.2, title: 'Burst Length', titleX: 758.3, titleY: 266,
  sig: { x0: 698.3, x1: 821, y: 288.3 }, labelY: 432.5, labelShift: [0, 0, 0],
};
const barBIbi: BarCfg = {
  axisX: 462.7, xEnd: 638.3, yb: 673.3, yt: 556, yMax: 1500, ticks: [0, 500, 1000, 1500],
  r0: 465.2, r1: 639.8, pi: 0.316, po: 0.15, title: 'Interburst Interval', titleX: 531, titleY: 533,
  sig: { x0: 490, x1: 613.3, y: 554 }, yLabel: { x: 420, y: 610 }, labelY: 694, labelShift: [0, 0, 0],
};
const barBBl: BarCfg = {
  axisX: 695, xEnd: 860, yb: 673.3, yt: 557.3, yMax: 150, ticks: [0, 50, 100, 150],
  r0: 695.4, r1: 856.4, pi: 0.34, po: 0.05, title: 'Burst Length', titleX: 749, titleY: 533,
  sig: { x0: 713.3, x1: 837.3, y: 554 }, labelY: 694, labelShift: [5, 3, 1],
};
const barCIbi: BarCfg = {
  axisX: 476.7, xEnd: 640, yb: 995.7, yt: 880, yMax: 800, ticks: [0, 200, 400, 600, 800],
  r0: 477, r1: 626.5, pi: 0.307, po: 0.15, title: 'Interburst Interval', titleX: 552.3, titleY: 850.7,
  sig: { x0: 496.7, x1: 601.7, y: 870 }, yLabel: { x: 423.3, y: 933.3 }, labelY: 1021.7, labelShift: [-1, -9],
};
const barCBl: BarCfg = {
  axisX: 679.3, xEnd: 835, yb: 995, yt: 876.7, yMax: 150, ticks: [0, 50, 100, 150],
  r0: 680, r1: 833.9, pi: 0.317, po: 0.15, title: 'Burst Length', titleX: 765.7, titleY: 850.7,
  labelY: 1021.7, labelShift: [-3, -29],
};

const App: React.FC = () => {
  return (
    <svg width={862} height={1050} style={{ position: 'absolute', left: 0, top: 0, background: '#fff' }}>
      <rect width={862} height={1050} fill="#fff" />
      {/* panel letters */}
      <g fontFamily={GILL} fontSize={19}>
        <text x={1} y={82}>A</text>
        <text x={1} y={497}>B</text>
        <text x={1} y={800}>C</text>
      </g>

      {/* A: example traces */}
      <g fontFamily={GILL} fontSize={14.5} fill="#111">
        <text x={47} y={148}>Control</text>
        <text x={47} y={211}>RLZ</text>
        <text x={47} y={227}>5uM</text>
        <text x={47} y={291}>Wash</text>
      </g>
      <SpikeTrace x0={105} y0={147.3} t={ctrlSpikeT} up={ctrlSpikeUp} down={ctrlSpikeDown} end={3.0} />
      <SpikeTrace x0={102.7} y0={210.7} t={rlzSpikeT} up={rlzSpikeUp} down={rlzSpikeDown} end={3.03} />
      <SpikeTrace x0={103.3} y0={290} t={washSpikeT} up={washSpikeUp} down={washSpikeDown} end={2.98} />
      <Burst x0={300} y0={147.3} pts={ctrlBurst} pxMs={0.308} pxMv={9} />
      <Burst x0={301.7} y0={210.7} pts={rlzBurst} pxMs={0.308} pxMv={9} />
      <Burst x0={297.7} y0={289.3} pts={washBurst} pxMs={0.308} pxMv={9} />
      <g stroke="#222" strokeWidth={1.2} fill="none">
        <path d="M210.7,331.7 V349.3 H268.7" />
        <path d="M306.7,341 V349.3 H322.7" />
      </g>
      <g fontFamily={GILL} fontSize={14} fill="#111">
        <text x={220} y={328}>1mV</text>
        <text x={220} y={343}>1min</text>
        <text x={315} y={328}>1mV</text>
        <text x={314} y={343}>50ms</text>
      </g>

      <Scatter cfg={scatterA} intPts={aInterval} lenPts={aLength} />
      <Bars cfg={barAIbi} values={ibiA} errs={ibiAErr} cats={catsA} />
      <Bars cfg={barABl} values={blA} errs={blAErr} cats={catsA} />

      <Scatter cfg={scatterB} intPts={bInterval} lenPts={bLength} />
      <Bars cfg={barBIbi} values={ibiB} errs={ibiBErr} cats={catsB} />
      <Bars cfg={barBBl} values={blB} errs={blBErr} cats={catsB} />

      {/* C: spontaneous vs evoked bursts */}
      <g fontFamily={ARIAL} fontSize={12} fill="#111">
        <text x={142} y={779} textAnchor="middle">Spontaneous burst</text>
        <text x={287} y={779} textAnchor="middle">Evoked burst</text>
        <text x={185} y={821}>1mV</text>
        <text x={182.7} y={844}>50ms</text>
      </g>
      <Burst x0={98.3} y0={821.7} pts={spontBurst} pxMs={0.186} pxMv={8.3} />
      <Burst x0={233.3} y0={822.7} pts={evokedBurst} pxMs={0.186} pxMv={8.3} />
      <path d="M180.7,810.5 V822.5 H190" stroke="#222" strokeWidth={1.2} fill="none" />
      <path d="M254,879.5 V868" stroke="#000" strokeWidth={2.2} />
      <path d="M254,861.5 L248.3,870.5 L259.7,870.5 Z" fill="#000" />

      <Scatter cfg={scatterC} intPts={cInterval} lenPts={cLength} />
      <Bars cfg={barCIbi} values={ibiC} errs={ibiCErr} cats={catsC} />
      <Bars cfg={barCBl} values={blC} errs={blCErr} cats={catsC} />
    </svg>
  );
};

export default App;
